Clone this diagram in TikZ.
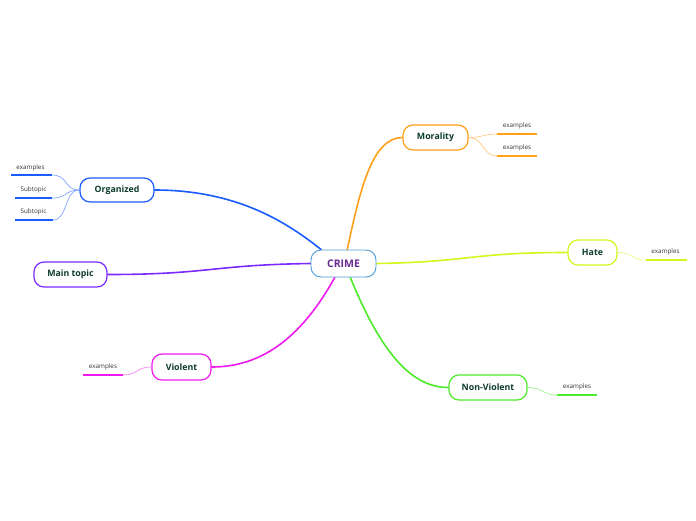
\documentclass[tikz,border=0pt]{standalone}
\usepackage{fontspec}
\setmainfont{Open Sans}
\usetikzlibrary{calc,backgrounds}
\definecolor{cblue}{HTML}{4A9BD8}
\definecolor{cpurp}{HTML}{6A2C91}
\definecolor{ctext}{HTML}{0D3B2E}
\definecolor{corg}{HTML}{1A5CFF}
\definecolor{cmor}{HTML}{FF9F1A}
\definecolor{chate}{HTML}{D6F51C}
\definecolor{cmain}{HTML}{7B2BFF}
\definecolor{cviol}{HTML}{F01AF0}
\definecolor{cnon}{HTML}{4DEB2A}
\tikzset{
  topic/.style={draw=#1, line width=1.2pt, rounded corners=10pt, fill=white, text=ctext,
    font=\fontsize{8.8}{10}\selectfont\bfseries, minimum height=25pt, inner sep=2pt},
  branch/.style={draw=#1, line width=1.6pt, line cap=round},
  subbranch/.style={draw=#1!55, line width=0.7pt},
  subline/.style={draw=#1, line width=1.5pt},
  sublabel/.style={font=\fontsize{6.3}{7}\selectfont, text=black!80, inner sep=1pt},
}
\begin{document}
\begin{tikzpicture}[x=1pt,y=-1pt]
\useasboundingbox (0,0) rectangle (696,520);

% central node
\node[draw=cblue, line width=0.9pt, rounded corners=10pt, fill=white, text=cpurp,
  font=\fontsize{10.5}{12}\selectfont\bfseries, minimum width=65pt, minimum height=27pt] (crime) at (343.5,263.5) {CRIME};

% topics
\node[topic=corg, minimum width=74pt, minimum height=24pt] (org) at (117,190) {Organized};
\node[topic=cmor, minimum width=65pt] (mor) at (435.5,137.5) {Morality};
\node[topic=chate, minimum width=49pt] (hate) at (592.5,252.5) {Hate};
\node[topic=cmain, minimum width=73pt] (mtop) at (70.5,274.5) {Main topic};
\node[topic=cviol, minimum width=59pt, minimum height=26pt] (viol) at (181.5,367) {Violent};
\node[topic=cnon, minimum width=78pt] (nonv) at (488,387.5) {Non-Violent};

% main branches
\begin{scope}[on background layer]
\draw[branch=corg] (org.east) .. controls (240,190) and (290,225) .. (crime.148);
\draw[branch=cmor] (crime.75) .. controls (360,190) and (372,137.5) .. (mor.west);
\draw[branch=chate] (crime.east) .. controls (470,262) and (470,252.5) .. (hate.west);
\draw[branch=cmain] (crime.west) .. controls (210,265) and (210,274.5) .. (mtop.east);
\draw[branch=cviol] (crime.238) .. controls (300,340) and (260,367) .. (viol.east);
\draw[branch=cnon] (crime.296) .. controls (380,350) and (410,387.5) .. (nonv.west);
\end{scope}

% Organized subtopics
\coordinate (o1l) at (11,175); \coordinate (o1r) at (52,175);
\coordinate (o2l) at (15,198); \coordinate (o2r) at (52,198);
\coordinate (o3l) at (15,220); \coordinate (o3r) at (53,220);
\node[sublabel] (o1) at (30.5,167.5) {examples};
\node[sublabel] (o2) at (33.5,189.5) {Subtopic};
\node[sublabel] (o3) at (33.5,211.5) {Subtopic};
\draw[subline=corg] (o1l) -- (o1r);
\draw[subline=corg] (o2l) -- (o2r);
\draw[subline=corg] (o3l) -- (o3r);
\draw[subbranch=corg] (org.west) .. controls (64,190) and (68,175) .. (o1r);
\draw[subbranch=corg] (org.west) .. controls (64,190) and (68,198) .. (o2r);
\draw[subbranch=corg] (org.west) .. controls (64,190) and (68,220) .. (o3r);

% Morality subtopics
\coordinate (m1l) at (497,134); \coordinate (m1r) at (537,134);
\coordinate (m2l) at (497,156); \coordinate (m2r) at (537,156);
\node[sublabel] (m1) at (517,125.5) {examples};
\node[sublabel] (m2) at (517,148) {examples};
\draw[subline=cmor] (m1l) -- (m1r);
\draw[subline=cmor] (m2l) -- (m2r);
\draw[subbranch=cmor] (mor.east) .. controls (484,137.5) and (482,134) .. (m1l);
\draw[subbranch=cmor] (mor.east) .. controls (484,137.5) and (482,156) .. (m2l);

% Hate subtopic
\coordinate (h1l) at (646,260); \coordinate (h1r) at (687,260);
\node[sublabel] (h1) at (665.5,252) {examples};
\draw[subline=chate] (h1l) -- (h1r);
\draw[subbranch=chate] (hate.east) .. controls (634,252.5) and (630,260) .. (h1l);

% Violent subtopic
\coordinate (v1l) at (83,375); \coordinate (v1r) at (123,375);
\node[sublabel] (v1) at (103,367) {examples};
\draw[subline=cviol] (v1l) -- (v1r);
\draw[subbranch=cviol] (viol.west) .. controls (136,367) and (138,375) .. (v1r);

% Non-Violent subtopic
\coordinate (n1l) at (557,395); \coordinate (n1r) at (597,395);
\node[sublabel] (n1) at (577,387) {examples};
\draw[subline=cnon] (n1l) -- (n1r);
\draw[subbranch=cnon] (nonv.east) .. controls (544,387.5) and (542,395) .. (n1l);
\end{tikzpicture}
\end{document}
